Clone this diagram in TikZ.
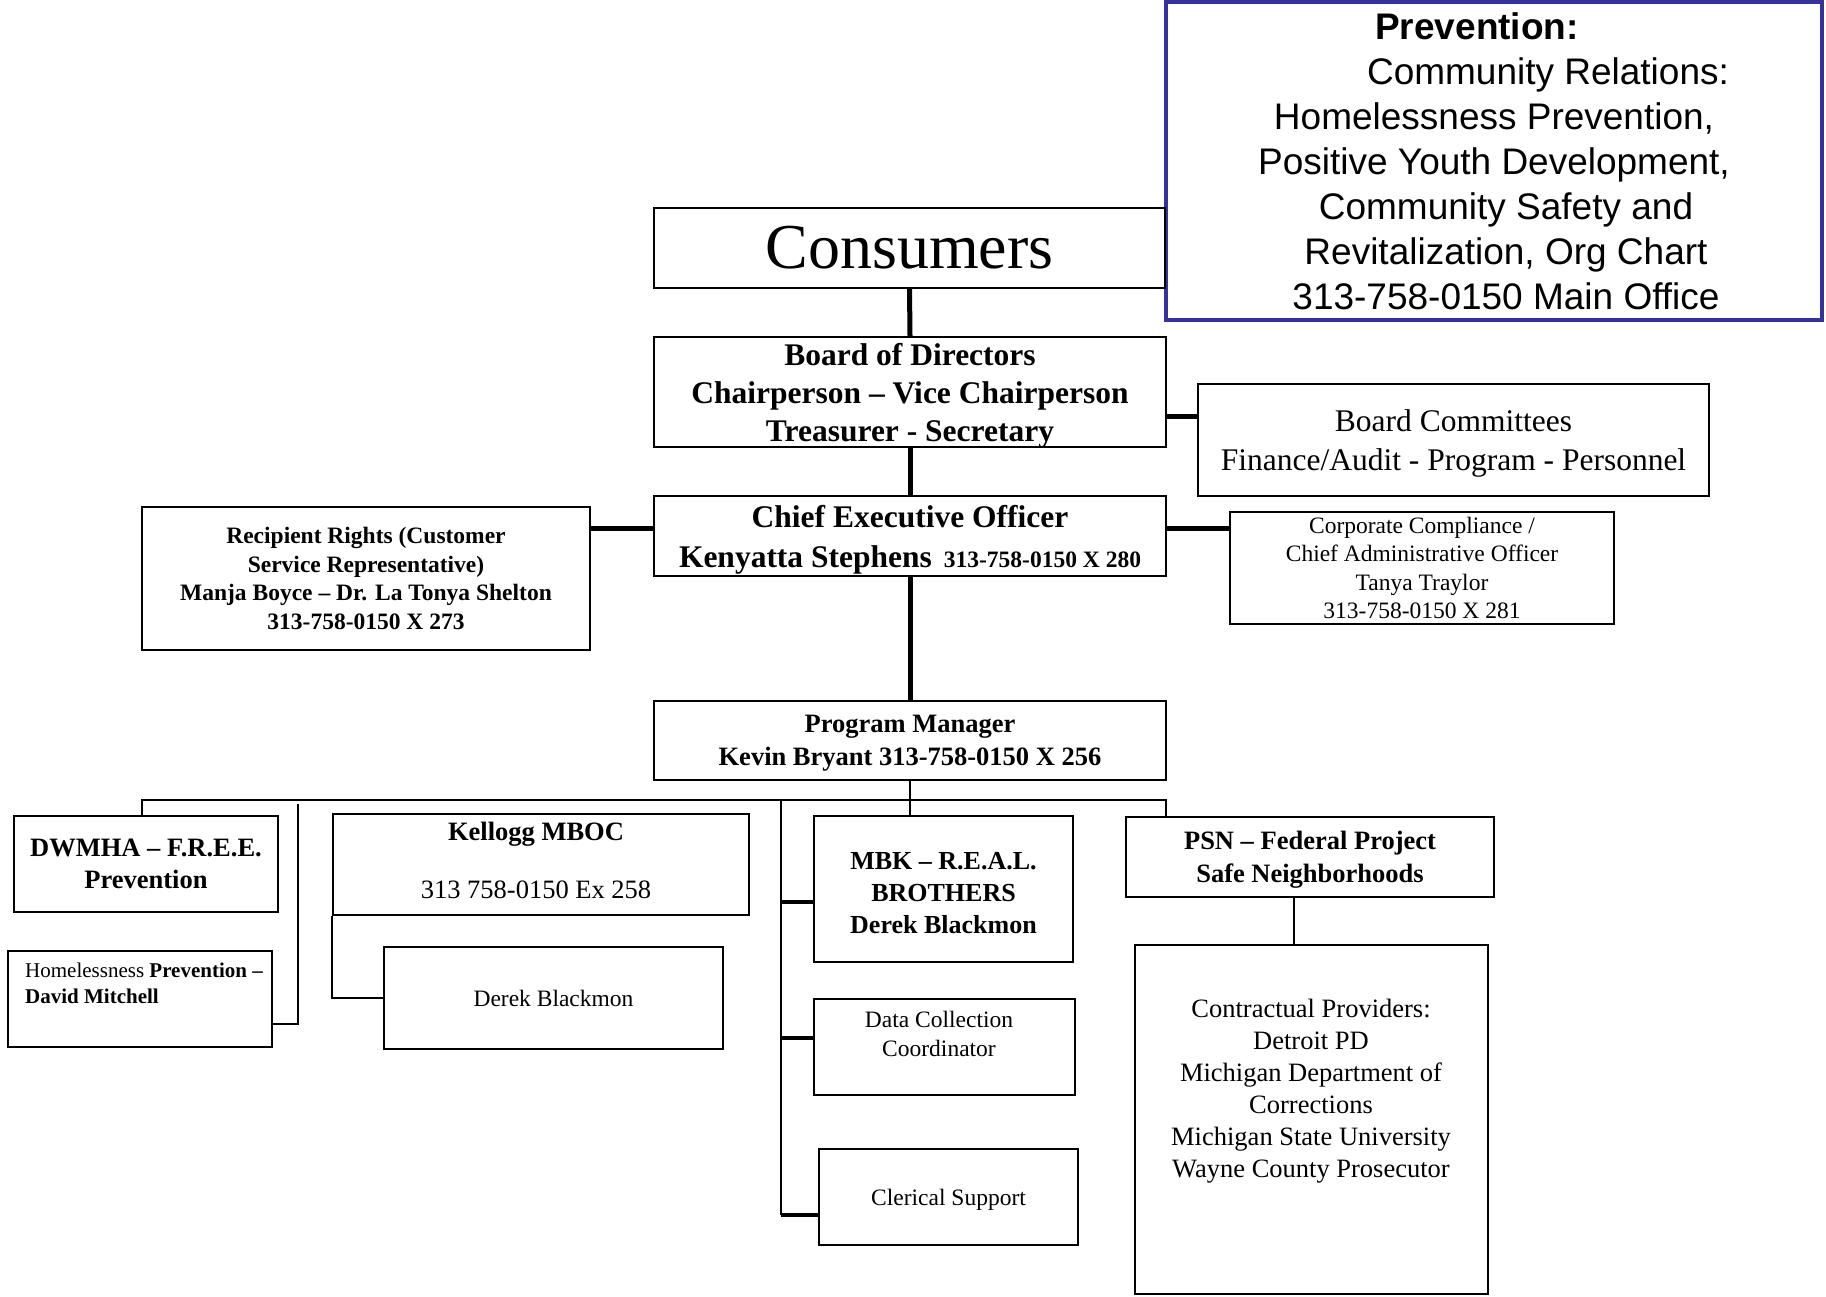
\documentclass[tikz,border=0pt]{standalone}
\usepackage{fontspec}
\setmainfont{Liberation Serif}
\newfontfamily\prevfont{Liberation Sans}
\usepackage{tikz}
\usetikzlibrary{positioning}
\definecolor{prevblue}{RGB}{51,51,153}
\newcommand{\fsize}[2]{\fontsize{#1}{#2}\selectfont}
\tikzset{
box/.style args = {#1, #2}{ rectangle, draw = black, line width = 2pt, minimum width = #1, minimum height = #2, inner sep = 0pt, align = center },
box text/.style = { inner sep = 0pt, align = center },
main link/.style = { line width = 5pt },
side link/.style = { line width = 5pt },
stub link/.style = { line width = 4pt },
thin link/.style = { line width = 2pt },
}

\begin{document}
\begin{tikzpicture}[x = 1pt, y = -1pt]
    \useasboundingbox (0, 0) rectangle (1826, 1296);
    \node[box = {656pt, 318pt}, draw = prevblue, line width = 4.5pt, font = \prevfont\fsize{37}{45}] (prev) at (1494, 161) {\textbf{Prevention:}\hspace*{34pt}\\ \hspace*{108pt}Community Relations:\\ Homelessness Prevention,\\ Positive Youth Development,\\ \hspace*{24pt}Community Safety and\\ \hspace*{24pt}Revitalization, Org Chart\\ \hspace*{24pt}313-758-0150 Main Office};
    \node[box = {511pt, 80pt}, font = \fsize{64}{72}] (cons) at (909.5, 248) {Consumers};
    \node[box = {512pt, 110pt}, font = \fsize{31.5}{38}\bfseries, text depth = 0pt] (board) at (910, 392) {Board of Directors\\ Chairperson – Vice Chairperson\\ Treasurer - Secretary};
    \node[box = {511pt, 112pt}, font = \fsize{31.5}{38.5}, text depth = 0pt] (comm) at (1453.5, 440) {Board Committees\\ Finance/Audit - Program - Personnel};
    \node[box = {512pt, 80pt}, font = \fsize{31.5}{40}\bfseries, text depth = 0pt] (ceo) at (910, 536) {Chief Executive Officer\\ Kenyatta Stephens\hspace{12pt}{\fsize{23.5}{28}313-758-0150 X 280}};
    \node[box = {448pt, 143pt}, font = \fsize{23.5}{28.5}\bfseries] (rights) at (366, 578.5) {Recipient Rights (Customer\\ Service Representative)\\ Manja Boyce – Dr. La Tonya Shelton\\ 313-758-0150 X 273};
    \node[box = {384pt, 112pt}, font = \fsize{23.5}{28.5}] (comp) at (1422, 568) {Corporate Compliance /\\ Chief Administrative Officer\\ Tanya Traylor\\ 313-758-0150 X 281};
    \node[box = {512pt, 79pt}, font = \fsize{26.5}{32.5}\bfseries, text depth = 0pt] (pm) at (910, 740.5) {Program Manager\\ Kevin Bryant 313-758-0150 X 256};
    \node[box = {264pt, 96pt}, font = \fsize{26.5}{31.5}\bfseries] (dwmha) at (146, 864) {DWMHA – F.R.E.E.\\ Prevention};
    \node[box = {264pt, 96pt}] (homeless) at (140, 999) {};
    \node[box text, align = left, anchor = north west, font = \fsize{21}{25.5}] (homelesstext) at (25, 963) {Homelessness \textbf{Prevention –}\\ \textbf{David Mitchell}};
    \node[box = {416pt, 101pt}] (kellogg) at (541, 864.5) {};
    \node[box text, anchor = north, font = \fsize{26.5}{29}] (kelloggtext) at (536, 822) {\textbf{Kellogg MBOC}\\[29pt] 313 758-0150 Ex 258};
    \node[box = {339pt, 102pt}, font = \fsize{23.5}{28.5}] (derek) at (553.5, 998) {Derek Blackmon};
    \node[box = {259pt, 146pt}, font = \fsize{26}{32}\bfseries, text height = 89.5pt] (mbk) at (943.5, 889) {MBK – R.E.A.L.\\ BROTHERS\\ Derek Blackmon};
    \node[box = {261pt, 96pt}] (data) at (944.5, 1047) {};
    \node[box text, anchor = north, font = \fsize{23.5}{28.5}] (datatext) at (939, 1011) {Data Collection\\ Coordinator};
    \node[box = {259pt, 96pt}, font = \fsize{23.5}{28.5}, text depth = 0pt] (clerical) at (948.5, 1197) {Clerical Support};
    \node[box = {368pt, 80pt}, font = \fsize{26.5}{32.5}\bfseries, text depth = 0pt] (psn) at (1310, 857) {PSN – Federal Project\\ Safe Neighborhoods};
    \node[box = {353pt, 349pt}] (providers) at (1311.5, 1119) {};
    \node[box text, anchor = north, font = \fsize{26.5}{32}] (providerstext) at (1311, 999) {Contractual Providers:\\ Detroit PD\\ Michigan Department of\\ Corrections\\ Michigan State University\\ Wayne County Prosecutor};
    \coordinate (board link) at (1166, 416);
    \coordinate (ceo link) at (910, 528);
    \coordinate (bus west) at (142, 800);
    \coordinate (bus east) at (1166, 800);
    \coordinate (homeless link) at (298, 804);
    \coordinate (staff link) at (781, 800);
    \coordinate (mbk stub) at (781, 902);
    \coordinate (data stub) at (781, 1038);
    \coordinate (clerical stub) at (781, 1215);
    \coordinate (psn link) at (1294, 897);
    \draw[main link] (cons.south) -- (board.north);
    \draw[main link] (board.south) -- (ceo.north);
    \draw[main link] (ceo.south) -- (pm.north);
    \draw[side link] (board link) -- (board link -| comm.west);
    \draw[side link] (ceo link -| ceo.west) -- (ceo link -| rights.east);
    \draw[side link] (ceo link -| ceo.east) -- (ceo link -| comp.west);
    \draw[thin link] (bus west |- dwmha.north) -- (bus west) -- (bus east) -- (bus east |- psn.north);
    \draw[thin link] (pm.south) -- (pm.south |- mbk.north);
    \draw[thin link] (homeless link) |- ([yshift = -25pt]homeless.east);
    \draw[thin link] (kellogg.south west) |- (derek.west);
    \draw[thin link] (staff link) -- (clerical stub);
    \draw[stub link] (mbk stub) -- (mbk stub -| mbk.west);
    \draw[stub link] (data stub) -- (data stub -| data.west);
    \draw[stub link] (clerical stub) -- (clerical stub -| clerical.west);
    \draw[thin link] (psn link) -- (psn link |- providers.north);
\end{tikzpicture}
\end{document}
